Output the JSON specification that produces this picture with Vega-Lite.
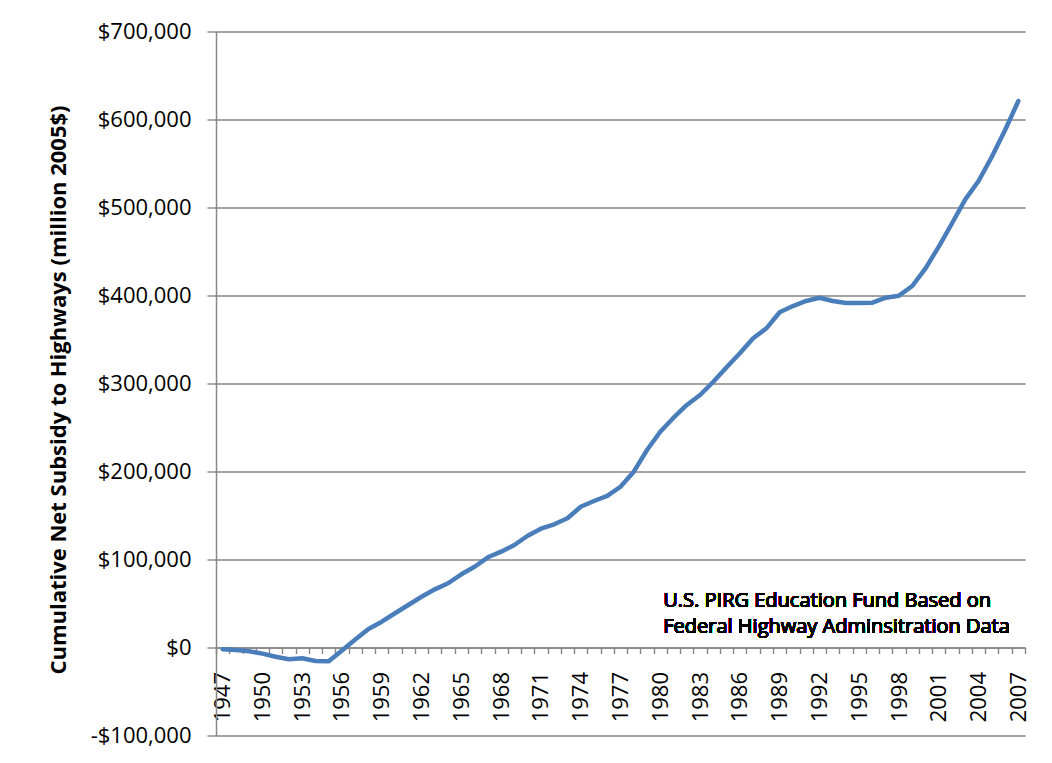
{
  "$schema": "https://vega.github.io/schema/vega-lite/v6.json",
  "autosize": "none",
  "width": 809,
  "height": 704,
  "padding": {"left": 216, "top": 31.5, "right": 27, "bottom": 27.5},
  "background": "white",
  "config": {
    "view": {"stroke": null},
    "axis": {
      "domainColor": "#868686",
      "gridColor": "#868686",
      "tickColor": "#868686",
      "domainWidth": 1.5,
      "gridWidth": 1.4,
      "tickWidth": 1.4,
      "labelColor": "#000000",
      "titleColor": "#000000",
      "labelFont": "Open Sans",
      "titleFont": "Open Sans",
      "labelFontSize": 22
    }
  },
  "data": {
    "values": [
      {"year": 1947, "value": -2000},
      {"year": 1948, "value": -2800},
      {"year": 1949, "value": -4300},
      {"year": 1950, "value": -7000},
      {"year": 1951, "value": -10500},
      {"year": 1952, "value": -13400},
      {"year": 1953, "value": -12300},
      {"year": 1954, "value": -15300},
      {"year": 1955, "value": -15700},
      {"year": 1956, "value": -3300},
      {"year": 1957, "value": 9000},
      {"year": 1958, "value": 21000},
      {"year": 1959, "value": 29300},
      {"year": 1960, "value": 38900},
      {"year": 1961, "value": 48300},
      {"year": 1962, "value": 57700},
      {"year": 1963, "value": 66100},
      {"year": 1964, "value": 73000},
      {"year": 1965, "value": 83200},
      {"year": 1966, "value": 91800},
      {"year": 1967, "value": 102500},
      {"year": 1968, "value": 108900},
      {"year": 1969, "value": 116500},
      {"year": 1970, "value": 127000},
      {"year": 1971, "value": 135000},
      {"year": 1972, "value": 140000},
      {"year": 1973, "value": 146800},
      {"year": 1974, "value": 160000},
      {"year": 1975, "value": 166500},
      {"year": 1976, "value": 172200},
      {"year": 1977, "value": 182700},
      {"year": 1978, "value": 199800},
      {"year": 1979, "value": 224400},
      {"year": 1980, "value": 245200},
      {"year": 1981, "value": 261100},
      {"year": 1982, "value": 275600},
      {"year": 1983, "value": 286900},
      {"year": 1984, "value": 302000},
      {"year": 1985, "value": 318400},
      {"year": 1986, "value": 334300},
      {"year": 1987, "value": 351400},
      {"year": 1988, "value": 362700},
      {"year": 1989, "value": 381000},
      {"year": 1990, "value": 388000},
      {"year": 1991, "value": 393800},
      {"year": 1992, "value": 397500},
      {"year": 1993, "value": 393800},
      {"year": 1994, "value": 391500},
      {"year": 1995, "value": 391500},
      {"year": 1996, "value": 391800},
      {"year": 1997, "value": 397500},
      {"year": 1998, "value": 399800},
      {"year": 1999, "value": 410800},
      {"year": 2000, "value": 430900},
      {"year": 2001, "value": 455500},
      {"year": 2002, "value": 482100},
      {"year": 2003, "value": 509300},
      {"year": 2004, "value": 530100},
      {"year": 2005, "value": 557700},
      {"year": 2006, "value": 588100},
      {"year": 2007, "value": 621000}
    ]
  },
  "layer": [
    {
      "mark": {"type": "line", "color": "#4A7EBB", "strokeWidth": 4.5, "strokeJoin": "round", "strokeCap": "round"},
      "encoding": {
        "x": {
          "field": "year",
          "type": "ordinal",
          "bandPosition": 0.5,
          "scale": {"type": "band", "paddingInner": 0, "paddingOuter": 0},
          "axis": {
            "title": null,
            "orient": "bottom",
            "offset": -88,
            "grid": false,
            "tickBand": "extent",
            "tickSize": 6,
            "labelAngle": -90,
            "labelPadding": 18,
            "labelOverlap": false,
            "labelExpr": "(datum.value - 1947) % 3 === 0 ? datum.label : ''"
          }
        },
        "y": {
          "field": "value",
          "type": "quantitative",
          "scale": {"domain": [-100000, 700000], "nice": false, "zero": false},
          "axis": {
            "title": "Cumulative Net Subsidy to Highways (million 2005$)",
            "titleFontSize": 22,
            "titleFontWeight": "bold",
            "titlePadding": 20,
            "titleY": 358,
            "values": [-100000, 0, 100000, 200000, 300000, 400000, 500000, 600000, 700000],
            "grid": true,
            "tickSize": 9,
            "labelPadding": 16,
            "labelExpr": "datum.value < 0 ? '-$' + format(-datum.value, ',') : '$' + format(datum.value, ',')"
          }
        }
      }
    },
    {
      "mark": {
        "type": "text",
        "text": ["U.S. PIRG Education Fund Based on", "Federal Highway Adminsitration Data"],
        "align": "left",
        "baseline": "alphabetic",
        "font": "Open Sans",
        "fontSize": 20,
        "lineHeight": 26,
        "color": "#000000",
        "dx": 3
      },
      "encoding": {
        "x": {"datum": 1980, "type": "ordinal"},
        "y": {"datum": 46000, "type": "quantitative"}
      }
    }
  ]
}
